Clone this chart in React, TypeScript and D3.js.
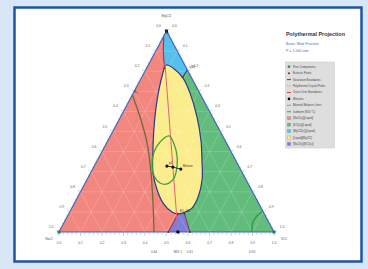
import React from 'react';
import * as d3 from 'd3';

const W = 368;
const H = 269;

// compositions as [r, t] : r = right component fraction, t = top component fraction
const triangle = [[0, 0], [1, 0], [0, 1]];

const liquidRegion = [
  [0.083, 0.831], [0.122, 0.816], [0.194, 0.766], [0.263, 0.692], [0.356, 0.572],
  [0.431, 0.458], [0.486, 0.358], [0.536, 0.259], [0.560, 0.174], [0.559, 0.119],
  [0.530, 0.095], [0.504, 0.090], [0.476, 0.0995], [0.412, 0.144], [0.352, 0.209],
  [0.290, 0.294], [0.233, 0.408], [0.181, 0.522], [0.128, 0.657], [0.093, 0.771],
];

const greenRegion = [[0.194, 0.806], [0.17, 0.78], [0.40, 0.30], [0.53, 0.05], [0.58, 0], [1, 0]];
const blueRegion = [[0, 1], [0.194, 0.806], [0.19, 0.77], [0.12, 0.78], [0.083, 0.815], [0.035, 0.9], [0, 0.975]];
const purpleRegion = [[0.508, 0.091], [0.538, 0.091], [0.609, 0], [0.508, 0]];

const redBlueBoundary = [[0, 0.975], [0.035, 0.9], [0.083, 0.815]];
const blueGreenBoundary = [[0.194, 0.806], [0.19, 0.77]];
const purpleLeftBoundary = [[0.508, 0.091], [0.508, 0]];
const purpleRightBoundary = [[0.538, 0.091], [0.609, 0]];

const materialBalance = [[0.075, 0.836], [0.553, 0]];
const oliveCurve = [[0, 0.682], [0.091, 0.572], [0.188, 0.443], [0.281, 0.294], [0.357, 0.159], [0.442, 0]];
const cornerArc = [[0.896, 0.104], [0.881, 0.080], [0.877, 0.050], [0.888, 0.020], [0.898, 0]];
const isothermLoop = [
  [0.273, 0.478], [0.316, 0.438], [0.357, 0.383], [0.387, 0.323], [0.401, 0.269], [0.383, 0.239],
  [0.348, 0.244], [0.303, 0.279], [0.266, 0.333], [0.243, 0.398], [0.246, 0.448],
];

const mixtures = [[0.338, 0.328], [0.368, 0.323], [0.410, 0.313]];
const baseMixture = [0.553, 0];
const eutectics = [[0.083, 0.815], [0.19, 0.77], [0.508, 0.091], [0.538, 0.091], [0.508, 0], [0.609, 0]];
const pureComponents = [[0, 0], [1, 0], [0, 1]];

const tickLabels = ['0.0', '0.1', '0.2', '0.3', '0.4', '0.5', '0.6', '0.7', '0.8', '0.9', '1.0'];
const vertexNames = ['NaCl', 'KCl', 'MgCl2'];

const annotations = [
  { text: 'Br', at: [0, 0.975] },
  { text: 'B+', at: [0, 0.682] },
  { text: 'x(B)', at: [0.194, 0.806] },
  { text: 'p1', at: [0.338, 0.328] },
  { text: 'Mixture', at: [0.410, 0.313] },
  { text: 'E1', at: [0.508, 0.091] },
  { text: 'E2', at: [0.538, 0.091] },
];
const baseLabels = [
  { text: '0.44', at: 0.442 },
  { text: 'MIX 1', at: 0.553 },
  { text: '0.61', at: 0.609 },
  { text: '0.90', at: 0.898 },
];

const legendTitle = 'Polythermal Projection';
const legendSub = ['Basis: Mole Fraction', 'P = 1.000 atm'];
const legendLabels = [
  'Pure Components', 'Eutectic Points', 'Saturation Boundaries', 'Polythermal Crystal Paths',
  'Cross Over Boundaries', 'Mixtures', 'Material Balance Lines', 'Isotherm (850 °C)',
  '[NaCl(s)][Liquid]', '[KCl(s)][Liquid]', '[MgCl2(s)][Liquid]', '[Liquid][MgCl2]', '[NaCl(s)][KCl(s)]',
];
const legendKinds = ['square', 'dot', 'line', 'dash', 'line', 'bigdot', 'line', 'line', 'box', 'box', 'box', 'box', 'box'];
const legendColors = ['#3c8c5c', '#7a3020', '#4444b0', '#b8b888', '#d84848', '#111', '#e870a8', '#2a9a8a',
  '#f2877f', '#62bc7c', '#55c0ec', '#fbec8c', '#7e7ed8'];

const xScale = d3.scaleLinear().domain([0, 1]).range([59, 274]);
const yScale = d3.scaleLinear().domain([0, 1]).range([232, 31]);
const proj = (p: number[]) => [xScale(p[0] + p[1] / 2), yScale(p[1])];

const lin = d3.line<number[]>().x(d => proj(d)[0]).y(d => proj(d)[1]);
const poly = (pts: number[][]) => lin(pts) + 'Z';
const smooth = d3.line<number[]>().x(d => proj(d)[0]).y(d => proj(d)[1]).curve(d3.curveCatmullRom.alpha(0.5));
const smoothClosed = d3.line<number[]>().x(d => proj(d)[0]).y(d => proj(d)[1]).curve(d3.curveCatmullRomClosed.alpha(0.5));

const NAVY = '#2a3a8c';
const CROSS = '#9a3a4c';
const font = 'Liberation Sans, Arial, sans-serif';

export default function App() {
  const major = d3.range(0, 11).map(i => i / 10);
  const minor = d3.range(0, 51).map(i => i / 50);
  const nl = [-0.882, -0.472];
  const nr = [0.882, -0.472];

  const grid: number[][][] = [];
  major.slice(1, 10).forEach(v => {
    grid.push([[0, v], [1 - v, v]]);
    grid.push([[v, 0], [v, 1 - v]]);
    grid.push([[1 - v, 0], [0, 1 - v]]);
  });

  return (
    <svg width={W} height={H} style={{ position: 'absolute', left: 0, top: 0 }} fontFamily={font}>
      <rect width={W} height={H} fill="#d9e6f6" />
      <rect x={14.5} y={7.5} width={347} height={254} fill="#fff" stroke="#1d55a3" strokeWidth={2.5} />

      {/* regions */}
      <path d={poly(triangle)} fill="#f2877f" />
      <path d={poly(greenRegion)} fill="#62bc7c" />
      <path d={poly(blueRegion)} fill="#55c0ec" />
      <path d={smoothClosed(liquidRegion) as string} fill="#fbec8c" />
      <path d={poly(purpleRegion)} fill="#7e7ed8" />

      {/* faint grid */}
      {grid.map((g, i) => (
        <path key={i} d={lin(g) as string} stroke="#fff" strokeOpacity={0.35} strokeWidth={0.5} fill="none" />
      ))}

      {/* boundaries */}
      <path d={smoothClosed(liquidRegion) as string} fill="none" stroke={NAVY} strokeWidth={1.2} />
      <path d={lin(blueGreenBoundary) as string} fill="none" stroke={NAVY} strokeWidth={1.2} />
      <path d={lin(redBlueBoundary) as string} fill="none" stroke={CROSS} strokeWidth={1.1} />
      <path d={lin(purpleLeftBoundary) as string} fill="none" stroke={CROSS} strokeWidth={1.1} />
      <path d={lin(purpleRightBoundary) as string} fill="none" stroke={CROSS} strokeWidth={1.1} />
      <path d={lin(materialBalance) as string} fill="none" stroke="#e8607a" strokeWidth={1} />
      <path d={smooth(oliveCurve) as string} fill="none" stroke="#6f6a3a" strokeWidth={1.3} />
      <path d={smooth(cornerArc) as string} fill="none" stroke="#2f9a3a" strokeWidth={1.3} />
      <path d={smoothClosed(isothermLoop) as string} fill="none" stroke="#3fa040" strokeWidth={1.3} />

      {/* triangle outline */}
      <path d={poly(triangle)} fill="none" stroke="#3f63b3" strokeWidth={1.1} />

      {/* ticks */}
      {minor.map((v, i) => {
        const len = i % 5 === 0 ? 3 : 1.6;
        const b = proj([v, 0]);
        const l = proj([0, 1 - v]);
        const r = proj([1 - v, v]);
        return (
          <g key={i} stroke="#7d9bd0" strokeWidth={0.5}>
            <line x1={b[0]} y1={b[1] + 1} x2={b[0]} y2={b[1] + 1 + len} />
            <line x1={l[0]} y1={l[1]} x2={l[0] + nl[0] * len} y2={l[1] + nl[1] * len} />
            <line x1={r[0]} y1={r[1]} x2={r[0] + nr[0] * len} y2={r[1] + nr[1] * len} />
          </g>
        );
      })}

      {/* tick labels */}
      {tickLabels.map((s, i) => {
        const v = major[i];
        const b = proj([v, 0]);
        const l = proj([0, 1 - v]);
        const r = proj([1 - v, v]);
        return (
          <g key={s} fontSize={3.4} fill="#666" textAnchor="middle">
            <text x={b[0]} y={b[1] + 12}>{s}</text>
            <text x={l[0] - 8} y={l[1] - 4}>{s}</text>
            <text x={r[0] + 8} y={r[1] - 4}>{tickLabels[10 - i]}</text>
          </g>
        );
      })}

      {/* vertex names */}
      <g fontSize={3.4} fill="#555" textAnchor="middle">
        <text x={proj(pureComponents[0])[0] - 10} y={proj(pureComponents[0])[1] + 8}>{vertexNames[0]}</text>
        <text x={proj(pureComponents[1])[0] + 10} y={proj(pureComponents[1])[1] + 8}>{vertexNames[1]}</text>
        <text x={proj(pureComponents[2])[0]} y={proj(pureComponents[2])[1] - 14}>{vertexNames[2]}</text>
      </g>

      {/* base labels */}
      {baseLabels.map(d => (
        <text key={d.text} x={xScale(d.at)} y={253} fontSize={3.2} fill="#555" textAnchor="middle">{d.text}</text>
      ))}

      {/* annotations */}
      {annotations.map(d => {
        const p = proj(d.at);
        return <text key={d.text} x={p[0] + 2} y={p[1] - 2} fontSize={3} fill="#333">{d.text}</text>;
      })}

      {/* points */}
      <path d={lin(mixtures) as string} fill="none" stroke="#111" strokeWidth={0.8} />
      {mixtures.map((m, i) => {
        const p = proj(m);
        return <circle key={i} cx={p[0]} cy={p[1]} r={1.6} fill="#111" />;
      })}
      <circle cx={proj(baseMixture)[0]} cy={proj(baseMixture)[1]} r={1.8} fill="#111" />
      {eutectics.map((e, i) => {
        const p = proj(e);
        return <circle key={i} cx={p[0]} cy={p[1]} r={1} fill="#7a3020" />;
      })}
      {pureComponents.map((c, i) => {
        const p = proj(c);
        return <rect key={i} x={p[0] - 1.5} y={p[1] - 1.5} width={3} height={3} fill={i === 2 ? '#223' : '#2f7a4a'} />;
      })}

      {/* legend */}
      <text x={286} y={36} fontSize={5.3} fontWeight="bold" fill="#333" textLength={59} lengthAdjust="spacingAndGlyphs">{legendTitle}</text>
      {legendSub.map((s, i) => (
        <text key={s} x={286} y={45 + i * 7} fontSize={3.6} fill="#4a6cc0">{s}</text>
      ))}
      <rect x={285.5} y={62} width={49} height={86} fill="#dedede" stroke="#c8c8c8" strokeWidth={0.5} />
      {legendLabels.map((s, i) => {
        const y = 66.7 + i * 6.44;
        const k = legendKinds[i];
        const c = legendColors[i];
        return (
          <g key={s}>
            {k === 'square' && <rect x={287.8} y={y - 1.2} width={2.4} height={2.4} fill={c} />}
            {k === 'dot' && <circle cx={289} cy={y} r={1} fill={c} />}
            {k === 'bigdot' && <circle cx={289} cy={y} r={1.3} fill={c} />}
            {k === 'line' && <line x1={287} x2={291} y1={y} y2={y} stroke={c} strokeWidth={1} />}
            {k === 'dash' && <line x1={287} x2={291} y1={y} y2={y} stroke={c} strokeWidth={1} strokeDasharray="1,0.6" />}
            {k === 'box' && <rect x={287.3} y={y - 1.6} width={3.4} height={3.2} fill={c} stroke="#888" strokeWidth={0.3} />}
            <text x={293} y={y + 1} fontSize={2.8} fill="#444">{s}</text>
          </g>
        );
      })}
    </svg>
  );
}
